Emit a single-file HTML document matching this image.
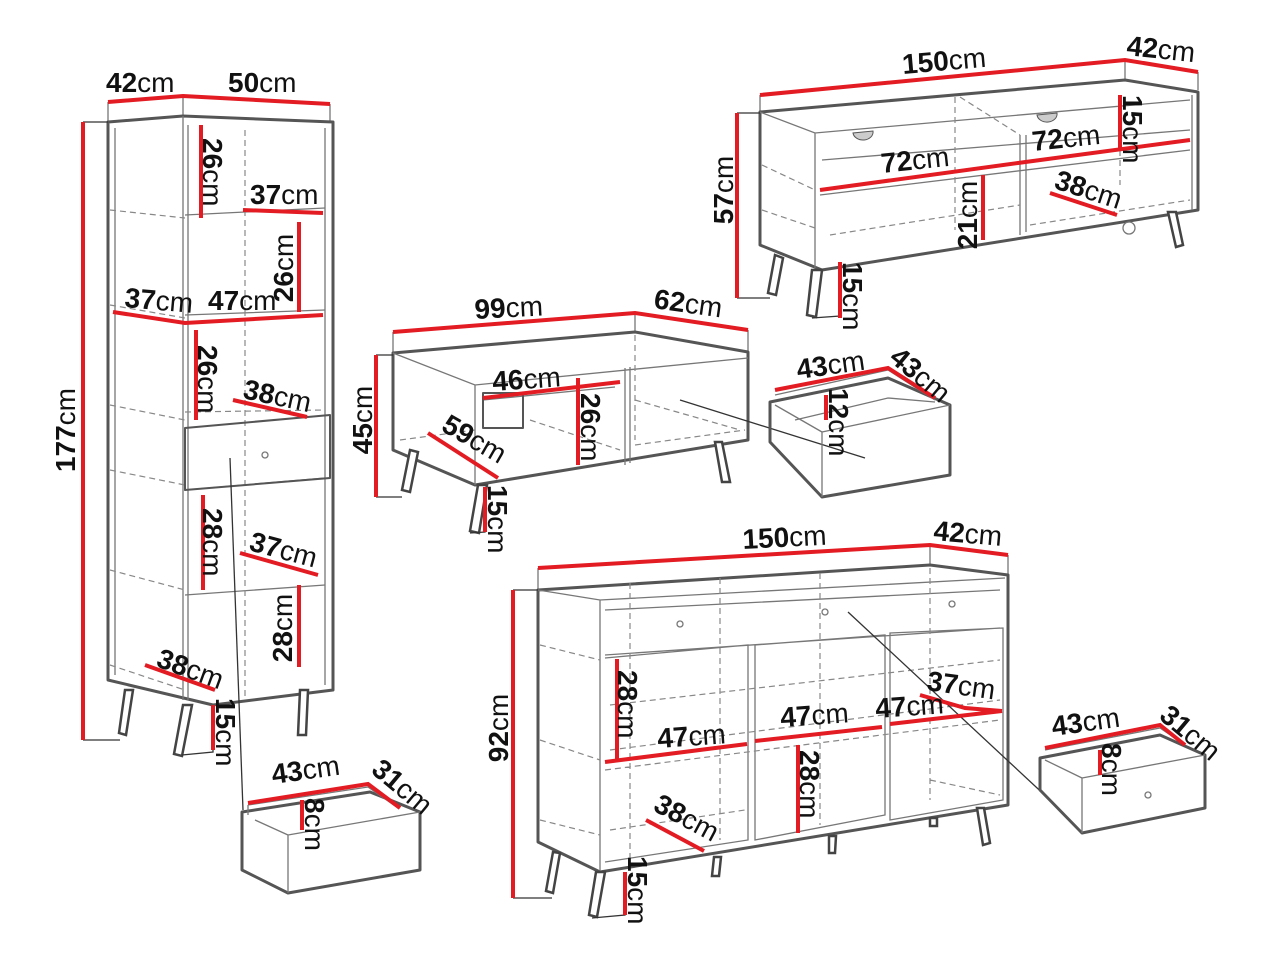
<!DOCTYPE html>
<html><head><meta charset="utf-8"><style>
html,body{margin:0;padding:0;background:#fff}
svg{display:block}
text{font-family:"Liberation Sans",sans-serif;font-size:28px;fill:#111}
.b{font-weight:bold}
.o{fill:none;stroke:#555;stroke-width:3;stroke-linejoin:round}
.t{fill:none;stroke:#777;stroke-width:1.3}
.d{fill:none;stroke:#888;stroke-width:1.2;stroke-dasharray:6 4}
.r{stroke:#e31b23;stroke-width:4;fill:none}
.g{stroke:#333;stroke-width:1.3;fill:none}
.leg{fill:#fff;stroke:#444;stroke-width:2.5}
</style></head><body>
<svg width="1280" height="960" viewBox="0 0 1280 960" xmlns="http://www.w3.org/2000/svg">

<!-- ============ BOOKCASE ============ -->
<g>
<path class="t" d="M108 102V122M183 96V116M330 104V122"/>
<polygon class="o" points="108,122 183,116 333,122 333,690 213,705 108,680"/>
<path class="t" d="M183,116 V700 M188,125 V700 M325,128 V685 M115,128 V675"/>
<path class="t" d="M185,215 L325,208 M185,315 L325,310 M185,490 L325,478 M185,595 L325,585"/>
<path class="d" d="M110,210 L185,218 M110,305 L185,318 M110,405 L185,420 M110,470 L185,485 M110,570 L185,590 M110,665 L185,690 M245,130 V700 M185,412 L325,410"/>
<polygon class="o" style="stroke-width:2" points="185,428 330,415 330,478 185,490"/>
<circle cx="265" cy="455" r="3" class="t"/>
<path class="g" d="M230,458 L243,810"/>
<polygon class="leg" points="125,690 133,690 126,735 119,733"/>
<polygon class="leg" points="183,705 192,705 182,756 174,754"/>
<polygon class="leg" points="300,690 308,690 306,735 298,735"/>
<path class="g" d="M83,122 H108 M83,740 H120"/>
<path class="g" d="M213,705 V752 L182,755"/>
<path class="r" d="M108,102 L183,96 L330,104"/>
<path class="r" d="M83,122 V740"/>
<path class="r" d="M201,125 V218 M243,210 L323,213 M299,222 V312 M113,312 L185,323 L323,315 M196,330 V420 M233,400 L307,417 M203,495 V590 M240,553 L318,575 M299,585 V667 M145,665 L215,690 M213,705 V750"/>
<text x="106" y="92"><tspan class="b">42</tspan>cm</text>
<text x="228" y="92"><tspan class="b">50</tspan>cm</text>
<text transform="translate(75,430) rotate(-90)" text-anchor="middle"><tspan class="b">177</tspan>cm</text>
<text transform="translate(203,138) rotate(90)"><tspan class="b">26</tspan>cm</text>
<text x="250" y="204"><tspan class="b">37</tspan>cm</text>
<text transform="translate(293,268) rotate(-90)" text-anchor="middle"><tspan class="b">26</tspan>cm</text>
<text x="124" y="307" transform="rotate(5 124 307)"><tspan class="b">37</tspan>cm</text>
<text x="208" y="310"><tspan class="b">47</tspan>cm</text>
<text transform="translate(198,345) rotate(90)"><tspan class="b">26</tspan>cm</text>
<text x="242" y="398" transform="rotate(12 242 398)"><tspan class="b">38</tspan>cm</text>
<text transform="translate(203,508) rotate(90)"><tspan class="b">28</tspan>cm</text>
<text x="248" y="550" transform="rotate(15 248 550)"><tspan class="b">37</tspan>cm</text>
<text transform="translate(292,628) rotate(-90)" text-anchor="middle"><tspan class="b">28</tspan>cm</text>
<text x="155" y="666" transform="rotate(20 155 666)"><tspan class="b">38</tspan>cm</text>
<text transform="translate(216,698) rotate(90)"><tspan class="b">15</tspan>cm</text>
</g>

<!-- bookcase drawer -->
<g>
<polygon class="o" points="242,812 370,792 420,812 420,870 288,893 242,870"/>
<path class="t" d="M248,805 L368,787 L398,808 M248,805 V815 M288,835 V893 M288,835 L420,812 M255,820 L288,835"/>
<path class="r" d="M248,803 L368,784 L400,808 M302,800 V830"/>
<text x="273" y="784" transform="rotate(-8 273 784)"><tspan class="b">43</tspan>cm</text>
<text x="370" y="772" transform="rotate(40 370 772)"><tspan class="b">31</tspan>cm</text>
<text transform="translate(305,798) rotate(90)"><tspan class="b">8</tspan>cm</text>
</g>

<!-- ============ TV STAND ============ -->
<g>
<path class="t" d="M760,95 V112 M1125,60 V80 M1198,72 V90"/>
<polygon class="o" points="760,112 1125,80 1198,92 1198,210 822,270 760,245"/>
<path class="t" d="M760,112 L815,133 L1190,100 M815,133 V268 M822,160 L1190,130 M820,195 L1190,150 M1020,135 V235 M1026,135 V232 M1192,95 V210"/>
<path class="d" d="M762,165 L815,190 M762,210 L815,228 M955,97 V230 M960,97 L1020,135 M1120,100 V185 M830,235 L1020,205 M1030,225 L1190,200"/>
<path d="M853,133 a10,8 0 0 0 20,-2 z" fill="#ccc" stroke="#555"/>
<path d="M1037,115 a10,8 0 0 0 20,-2 z" fill="#ccc" stroke="#555"/>
<polygon class="leg" points="775,255 783,258 776,295 768,293"/>
<polygon class="leg" points="812,270 822,270 816,317 807,315"/>
<polygon class="leg" points="1168,212 1176,212 1183,245 1176,247"/>
<circle cx="1129" cy="228" r="6" class="t"/>
<path class="g" d="M737,113 H760 M737,298 H770 M840,262 V316 L812,318"/>
<path class="r" d="M760,95 L1125,60 L1198,72 M737,113 V298 M820,190 L1018,163 L1190,140 M1120,95 V150 M983,175 V240 M1050,193 L1117,215 M840,262 V318"/>
<text x="903" y="74" transform="rotate(-5 903 74)"><tspan class="b">150</tspan>cm</text>
<text x="1126" y="55" transform="rotate(6 1126 55)"><tspan class="b">42</tspan>cm</text>
<text transform="translate(733,190) rotate(-90)" text-anchor="middle"><tspan class="b">57</tspan>cm</text>
<text x="882" y="173" transform="rotate(-6 882 173)"><tspan class="b">72</tspan>cm</text>
<text x="1033" y="151" transform="rotate(-6 1033 151)"><tspan class="b">72</tspan>cm</text>
<text transform="translate(1123,95) rotate(90)"><tspan class="b">15</tspan>cm</text>
<text transform="translate(977,215) rotate(-90)" text-anchor="middle"><tspan class="b">21</tspan>cm</text>
<text x="1053" y="188" transform="rotate(18 1053 188)"><tspan class="b">38</tspan>cm</text>
<text transform="translate(843,262) rotate(90)"><tspan class="b">15</tspan>cm</text>
</g>

<!-- ============ COFFEE TABLE ============ -->
<g>
<path class="t" d="M393,332 V353 M635,313 V332 M748,330 V352"/>
<polygon class="o" points="393,353 635,332 748,352 748,440 475,485 393,450"/>
<path class="t" d="M393,353 L475,385 L748,358 M475,385 V485 M625,368 V465 M630,367 V463 M483,400 L615,387"/>
<path class="d" d="M635,335 V440 M400,440 L475,430 M530,420 L620,450 M635,445 L745,430 M635,400 L740,430"/>
<rect x="483" y="393" width="40" height="35" class="o" style="stroke-width:2"/>
<path class="g" d="M680,400 L865,458"/>
<polygon class="leg" points="410,450 418,452 410,492 402,490"/>
<polygon class="leg" points="478,485 487,485 479,533 470,531"/>
<polygon class="leg" points="715,442 722,442 730,482 722,482"/>
<path class="g" d="M376,355 H393 M376,497 H402 M485,487 V532 L470,533"/>
<path class="r" d="M393,332 L635,313 L748,330 M376,355 V497 M483,398 L620,382 M578,378 V465 M428,433 L498,478 M485,487 V532"/>
<text x="475" y="319" transform="rotate(-3 475 319)"><tspan class="b">99</tspan>cm</text>
<text x="653" y="308" transform="rotate(8 653 308)"><tspan class="b">62</tspan>cm</text>
<text transform="translate(372,420) rotate(-90)" text-anchor="middle"><tspan class="b">45</tspan>cm</text>
<text x="493" y="391" transform="rotate(-4 493 391)"><tspan class="b">46</tspan>cm</text>
<text transform="translate(581,393) rotate(90)"><tspan class="b">26</tspan>cm</text>
<text x="440" y="430" transform="rotate(30 440 430)"><tspan class="b">59</tspan>cm</text>
<text transform="translate(488,485) rotate(90)"><tspan class="b">15</tspan>cm</text>
</g>

<!-- coffee table drawer -->
<g>
<polygon class="o" points="770,402 888,378 950,405 950,475 822,497 770,442"/>
<path class="t" d="M775,395 L888,370 L935,400 M822,432 L950,405 M822,432 V497 M775,405 L822,432 M795,420 L888,398 L935,402"/>
<path class="r" d="M775,390 L888,368 L935,398 M826,395 V420"/>
<text x="798" y="379" transform="rotate(-8 798 379)"><tspan class="b">43</tspan>cm</text>
<text x="888" y="360" transform="rotate(40 888 360)"><tspan class="b">43</tspan>cm</text>
<text transform="translate(829,388) rotate(90)"><tspan class="b">12</tspan>cm</text>
</g>

<!-- ============ SIDEBOARD ============ -->
<g>
<path class="t" d="M538,568 V590 M930,545 V565 M1008,555 V575"/>
<polygon class="o" points="538,590 930,565 1008,575 1008,805 600,872 538,842"/>
<path class="t" d="M538,590 L600,600 L1005,578 M600,600 V872 M605,655 L1000,628 M605,610 L1000,590 M605,658 L748,645 V840 L605,862 M755,645 L885,635 V815 L755,840 Z M890,633 L1003,628 V800 L890,820 Z"/>
<path class="d" d="M540,645 L600,660 M540,740 L600,760 M540,820 L600,835 M630,583 V860 M720,578 V840 M820,573 V825 M930,568 V800 M610,750 L1000,700 M610,830 L745,810 M610,705 L1000,660 M605,770 L1000,720 M930,780 L1000,795"/>
<circle cx="680" cy="624" r="3" class="t"/><circle cx="825" cy="612" r="3" class="t"/><circle cx="952" cy="604" r="3" class="t"/>
<path class="g" d="M848,612 L1050,800"/>
<polygon class="leg" points="553,852 560,853 553,893 546,891"/>
<polygon class="leg" points="596,872 605,872 597,917 589,915"/>
<polygon class="leg" points="714,857 721,857 719,876 712,876"/>
<polygon class="leg" points="829,836 836,836 835,853 829,853"/>
<polygon class="leg" points="930,818 937,818 937,826 930,826"/>
<polygon class="leg" points="977,808 984,808 990,843 983,845"/>
<path class="g" d="M513,590 H538 M513,898 H552 M625,872 V915 L592,918"/>
<path class="r" d="M538,568 L930,545 L1008,555 M513,590 V898 M617,659 V760 M605,762 L747,744 M755,741 L882,727 M890,724 L1002,711 M920,695 L965,708 L1002,711 M798,745 V833 M646,820 L704,851 M625,872 V915"/>
<text x="743" y="549" transform="rotate(-3 743 549)"><tspan class="b">150</tspan>cm</text>
<text x="933" y="540" transform="rotate(5 933 540)"><tspan class="b">42</tspan>cm</text>
<text transform="translate(508,728) rotate(-90)" text-anchor="middle"><tspan class="b">92</tspan>cm</text>
<text transform="translate(618,670) rotate(90)"><tspan class="b">28</tspan>cm</text>
<text x="658" y="748" transform="rotate(-4 658 748)"><tspan class="b">47</tspan>cm</text>
<text x="781" y="727" transform="rotate(-4 781 727)"><tspan class="b">47</tspan>cm</text>
<text x="876" y="718" transform="rotate(-4 876 718)"><tspan class="b">47</tspan>cm</text>
<text x="926" y="690" transform="rotate(8 926 690)"><tspan class="b">37</tspan>cm</text>
<text transform="translate(800,750) rotate(90)"><tspan class="b">28</tspan>cm</text>
<text x="652" y="810" transform="rotate(28 652 810)"><tspan class="b">38</tspan>cm</text>
<text transform="translate(628,856) rotate(90)"><tspan class="b">15</tspan>cm</text>
</g>

<!-- sideboard drawer -->
<g>
<polygon class="o" points="1040,758 1160,735 1205,755 1205,808 1082,833 1040,790"/>
<path class="t" d="M1045,750 L1160,728 L1185,745 M1082,778 L1205,755 M1082,778 V833 M1045,760 L1082,778"/>
<circle cx="1148" cy="795" r="3" class="t"/>
<path class="r" d="M1045,748 L1160,725 L1185,745 M1100,750 V775"/>
<text x="1053" y="736" transform="rotate(-8 1053 736)"><tspan class="b">43</tspan>cm</text>
<text x="1158" y="718" transform="rotate(40 1158 718)"><tspan class="b">31</tspan>cm</text>
<text transform="translate(1102,743) rotate(90)"><tspan class="b">8</tspan>cm</text>
</g>
</svg>
</body></html>
